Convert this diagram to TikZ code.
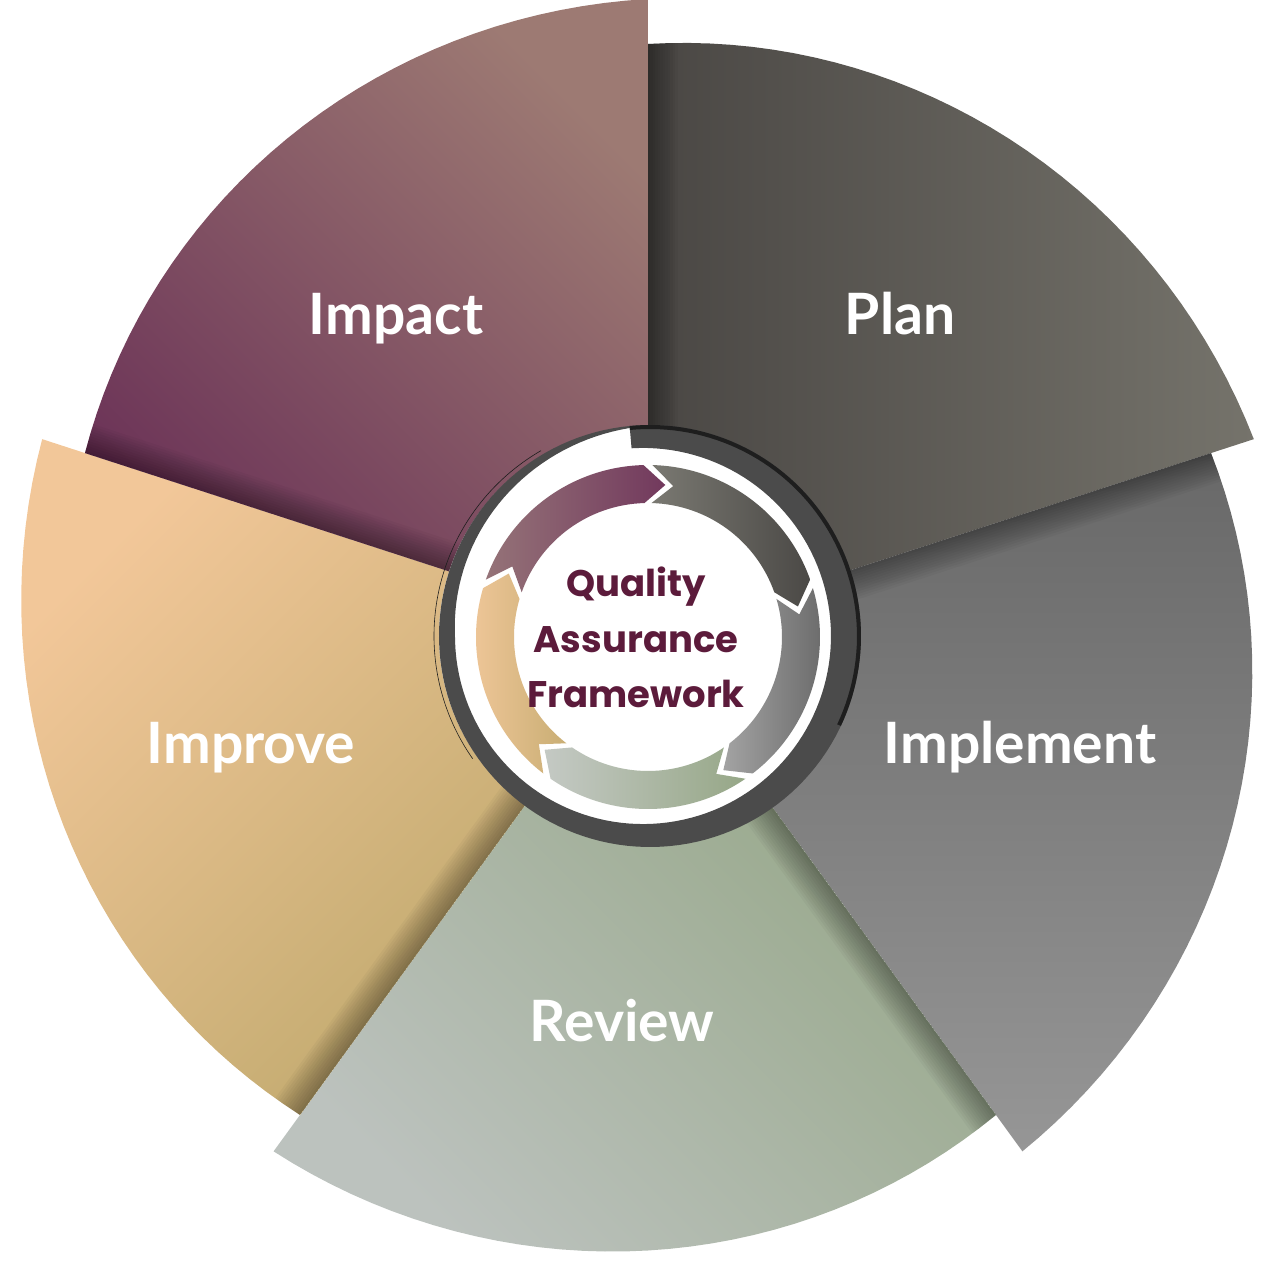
\documentclass[tikz,border=0pt]{standalone}
\usepackage{fontspec}
\newfontfamily\labelfont{Lato}
\newfontfamily\hubfont{Poppins}
\usetikzlibrary{positioning}

\definecolor{impactDark}{HTML}{6B3257}
\definecolor{impactLight}{HTML}{9D7A73}
\definecolor{planDark}{HTML}{4A4744}
\definecolor{planLight}{HTML}{75736B}
\definecolor{implDark}{HTML}{686868}
\definecolor{implLight}{HTML}{969696}
\definecolor{reviewGrey}{HTML}{BCC2BE}
\definecolor{reviewGreen}{HTML}{93A584}
\definecolor{improvePeach}{HTML}{F2C799}
\definecolor{improveTan}{HTML}{BCA76A}
\definecolor{ringGrey}{HTML}{4B4B4B}
\definecolor{ringBlack}{HTML}{1E1E1E}
\definecolor{qaText}{HTML}{5C1B3B}

\tikzset{
    stage/.style = {text=white, inner sep=0pt, anchor=base,
        font=\labelfont\bfseries\fontsize{57}{60}\selectfont},
    hub/.style = {text=qaText, inner sep=0pt,
        text height=27pt, text depth=8pt,
        font=\hubfont\bfseries\fontsize{37}{40}\selectfont},
}

% outer petal, radius grows clockwise
\newcommand\petal[1]{(0,0) -- plot[domain=#1:#1-72, samples=37, variable=\t] (\t:{592+45*(#1-\t)/72}) -- cycle}
% chevron of the inner cycle
\newcommand\chevron[1]{({#1-1.5}:172) arc[start angle=#1-1.5, end angle=#1-70.5, radius=172]
    -- ({#1-78.5}:153) -- ({#1-70.5}:134) arc[start angle=#1-70.5, end angle=#1-1.5, radius=134]
    -- ({#1-9.5}:153) -- cycle}

\begin{document}
\begin{tikzpicture}[x=1pt, y=1pt]
	\useasboundingbox (-648,-639) rectangle (619,636);
	
	% petals
	\foreach \a/\lo/\hi/\tilt in {90/planDark/planLight/-90, 18/implLight/implDark/0,
	    -54/reviewGrey/reviewGreen/-45, -126/improveTan/improvePeach/45,
	    162/impactDark/impactLight/-45} {
		\shade [bottom color=\lo, top color=\hi, shading angle=\tilt] \petal{\a};
		\begin{scope}
			\clip \petal{\a};
			\foreach \d in {2.5,5,...,30}
				\fill [black, opacity=0.03, rotate=\a] (0,0) rectangle (700,-\d);
		\end{scope}
	}
	
	% stage names
	\node [stage, name=impactLbl] at (-252,301) {Impact};
	\node [stage, name=planLbl] at (252,301) {Plan};
	\node [stage, name=implLbl] at (372,-127) {Implement};
	\node [stage, name=reviewLbl] at (-26,-405) {Review};
	\node [stage, name=improveLbl] at (-397,-127) {Improve};
	
	% hub ring
	\fill [white] (0,0) circle[radius=209];
	\fill [ringGrey] plot[domain=95:-265, samples=150, variable=\t] (\t:{211+2*cos(\t)})
	    -- plot[domain=-265:95, samples=150, variable=\t]
	       (\t:{188-5*cos(\t)+max(0,(-180-\t)/85)*(21+7*cos(\t))}) -- cycle;
	\draw [ringBlack, line width=4pt] plot[domain=95:-25, samples=60, variable=\t] (\t:{209+2*cos(\t)});
	\draw [ringBlack, line width=0.6pt] (215:214) arc[start angle=215, end angle=120, radius=214];
	
	% cycle arrows
	\begin{scope}[yshift=-1]
		\foreach \a/\lo/\hi in {162/{rgb,255:red,149;green,115;blue,120}/{rgb,255:red,114;green,57;blue,93},
		    90/{rgb,255:red,122;green,121;blue,114}/{rgb,255:red,75;green,73;blue,70},
		    18/{rgb,255:red,163;green,163;blue,163}/{rgb,255:red,102;green,102;blue,102},
		    -54/{rgb,255:red,196;green,201;blue,196}/{rgb,255:red,150;green,167;blue,135},
		    -126/{rgb,255:red,242;green,200;blue,155}/{rgb,255:red,201;green,174;blue,116}}
			\shade [left color=\lo, right color=\hi] \chevron{\a};
	\end{scope}
	
	% title
	\node [hub, name=qaMid] at (-12,-6.5) {Assurance};
	\node [hub, above=20pt of qaMid, name=qaTop] {Quality};
	\node [hub, below=20pt of qaMid, name=qaLow] {Framework};
\end{tikzpicture}
\end{document}
